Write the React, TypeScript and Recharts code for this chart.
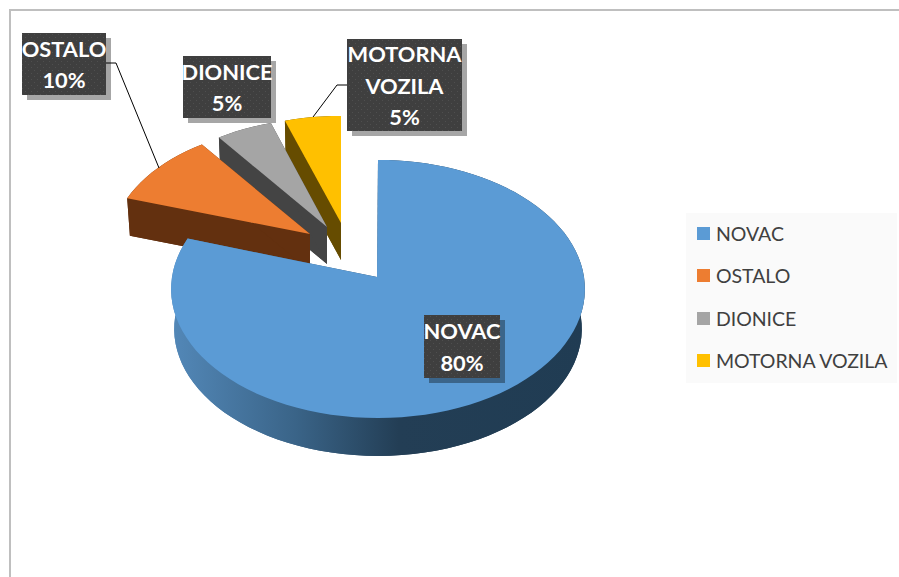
/**
 * Imovina po vrstama — exploded 3D look pie, drawn through a Pie custom shape.
 *
 * Series are reversed in the table so the back slices paint first and NOVAC
 * ends up in front; the legend keeps the original order.
 */

import { PieChart, Pie, Legend } from 'recharts'

const CATEGORIES = ['NOVAC', 'OSTALO', 'DIONICE', 'MOTORNA VOZILA']
const VALUES = [80, 10, 5, 5]
const COLORS = ['#5B9BD5', '#ED7D31', '#A5A5A5', '#FFC000']

const CHART_W = 899
const CHART_H = 577
const FONT = 'Lato, "Open Sans", sans-serif'

// perspective of the tilted disc
const TILT = 0.093
const SQUASH = 0.621
const STEP = 3

interface SliceStyle {
  dx: number
  dy: number
  arcDx: number
  sx: number
  sy: number
  depth: number
  wall: string
}

const SLICE_STYLE: Record<string, SliceStyle> = {
  NOVAC: { dx: 0, dy: 0, arcDx: 1, sx: 1, sy: 1, depth: 40, wall: 'url(#novacWall)' },
  OSTALO: { dx: -67, dy: -43, arcDx: 0, sx: 0.96, sy: 0.93, depth: 37, wall: '#63300F' },
  DIONICE: { dx: -50, dy: -50, arcDx: 0, sx: 0.96, sy: 0.93, depth: 37, wall: '#444444' },
  'MOTORNA VOZILA': { dx: -36, dy: -54, arcDx: 0, sx: 0.96, sy: 0.915, depth: 37, wall: '#664C00' },
}

const LABEL_BOX: Record<string, { x: number; y: number; w: number; h: number; leader?: [number, number][] }> = {
  NOVAC: { x: 424, y: 315, w: 76, h: 63 },
  OSTALO: { x: 22, y: 33, w: 84, h: 62, leader: [[106, 63], [116, 63], [159, 168]] },
  DIONICE: { x: 183, y: 56, w: 88, h: 62 },
  'MOTORNA VOZILA': { x: 347, y: 39, w: 115, h: 92, leader: [[347, 85], [337, 85], [313, 117]] },
}

const tableData = CATEGORIES.map((name, i) => ({ name, value: VALUES[i], fill: COLORS[i] })).reverse()

function toPath(points: number[][], close = true): string {
  return points.map((p, i) => `${i ? 'L' : 'M'}${p[0].toFixed(1)},${p[1].toFixed(1)}`).join('') + (close ? 'Z' : '')
}

// eslint-disable-next-line @typescript-eslint/no-explicit-any
function SliceShape(props: any) {
  const { cx, cy, outerRadius, startAngle, endAngle, fill, name } = props
  const style = SLICE_STYLE[name]

  const ax = cx + style.dx
  const ay = cy + style.dy

  const project = (clock: number, drop: number, shrink: number) => {
    const rad = (clock * Math.PI) / 180
    const u = Math.sin(rad)
    const v = Math.cos(rad)
    const w = 1 + TILT * v
    return [
      ax + style.arcDx + (outerRadius * style.sx * shrink * u) / w,
      ay + drop - (outerRadius * SQUASH * style.sy * shrink * v) / w,
    ]
  }

  // recharts angles run counter-clockwise from 3 o'clock
  const from = 90 - endAngle
  const to = 90 - startAngle
  const arc = (drop: number, shrink: number) => {
    const pts: number[][] = []
    for (let a = from; a < to; a += STEP) pts.push(project(a, drop, shrink))
    pts.push(project(to, drop, shrink))
    return pts
  }

  const top = arc(0, 1)
  const bottom = arc(style.depth, 0.985)
  const apexTop = [ax, ay]
  const apexBottom = [ax, ay + style.depth]

  return (
    <g>
      <path d={toPath([apexBottom, ...bottom])} fill={style.wall} />
      <path d={toPath([...top, ...[...bottom].reverse()])} fill={style.wall} />
      <path d={toPath([apexTop, top[0], bottom[0], apexBottom])} fill={style.wall} />
      <path d={toPath([apexTop, top[top.length - 1], bottom[bottom.length - 1], apexBottom])} fill={style.wall} />
      <path d={toPath([apexTop, ...top])} fill={fill} />
    </g>
  )
}

// eslint-disable-next-line @typescript-eslint/no-explicit-any
function SliceLabel(props: any) {
  const { name, value } = props
  const box = LABEL_BOX[name]
  const lines = [...name.split(' '), `${value}%`]
  const lineGap = 31.5
  const firstY = box.y + box.h / 2 - ((lines.length - 1) * lineGap) / 2

  return (
    <g>
      {box.leader && <path d={toPath(box.leader, false)} fill="none" stroke="#000000" strokeWidth={1} />}
      <rect x={box.x + 5} y={box.y + 5} width={box.w} height={box.h} fill="rgba(0,0,0,0.35)" />
      <rect x={box.x} y={box.y} width={box.w} height={box.h} fill="url(#labelDots)" />
      {lines.map((line: string, i: number) => (
        <text
          key={line}
          x={box.x + box.w / 2}
          y={firstY + i * lineGap}
          textAnchor="middle"
          dominantBaseline="central"
          fontFamily={FONT}
          fontWeight={700}
          fontSize={21.8}
          fill="#FFFFFF"
        >
          {line}
        </text>
      ))}
    </g>
  )
}

function LegendBox() {
  return (
    <div style={{ width: 211, height: 170, background: '#FAFAFA', position: 'relative' }}>
      {CATEGORIES.map((name, i) => (
        <div key={name} style={{ position: 'absolute', left: 11, top: 21 + i * 42.3 - 7, display: 'flex', alignItems: 'center', height: 13 }}>
          <span style={{ width: 13, height: 13, background: COLORS[i], display: 'inline-block' }} />
          <span style={{ marginLeft: 6, fontFamily: FONT, fontSize: 19.5, color: '#404040', whiteSpace: 'nowrap', letterSpacing: -0.05 }}>{name}</span>
        </div>
      ))}
    </div>
  )
}

export default function App() {
  return (
    <div style={{ position: 'absolute', left: 0, top: 0, width: CHART_W, height: CHART_H, overflow: 'hidden', background: '#FFFFFF' }}>
      <div style={{ position: 'absolute', left: 9, top: 9, right: 0, bottom: 0, borderTop: '2px solid #BFBFBF', borderLeft: '2px solid #BFBFBF' }} />
      <PieChart width={CHART_W} height={CHART_H} margin={{ top: 0, right: 0, bottom: 0, left: 0 }} style={{ position: 'absolute', left: 0, top: 0 }}>
        <defs>
          <linearGradient id="novacWall" gradientUnits="userSpaceOnUse" x1={171} y1={0} x2={585} y2={0}>
            <stop offset="0" stopColor="#5388B8" />
            <stop offset="0.3" stopColor="#3A6488" />
            <stop offset="0.55" stopColor="#233E55" />
            <stop offset="1" stopColor="#203C53" />
          </linearGradient>
          <pattern id="labelDots" width={6} height={6} patternUnits="userSpaceOnUse">
            <rect width={6} height={6} fill="#3F3F3F" />
            <rect x={1} y={1} width={1} height={1} fill="#4F4F4F" />
            <rect x={4} y={4} width={1} height={1} fill="#4F4F4F" />
          </pattern>
        </defs>
        <Pie
          data={tableData}
          dataKey="value"
          nameKey="name"
          cx={377}
          cy={277}
          innerRadius={0}
          outerRadius={206}
          startAngle={90}
          endAngle={450}
          stroke="none"
          shape={SliceShape}
          label={SliceLabel}
          labelLine={false}
          isAnimationActive={false}
        />
        <Legend content={<LegendBox />} wrapperStyle={{ left: 686, top: 213, width: 211, height: 170 }} />
      </PieChart>
    </div>
  )
}
